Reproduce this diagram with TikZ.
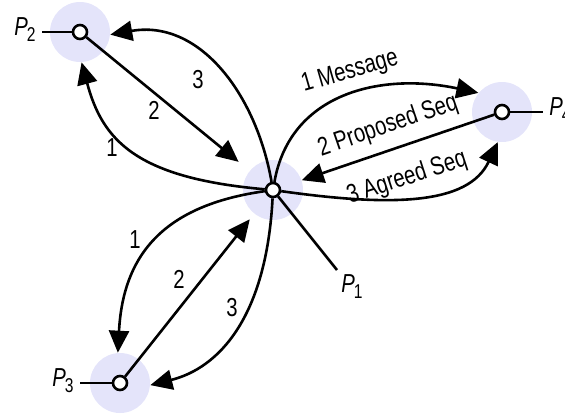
\documentclass[tikz,border=0pt]{standalone}
\usepackage{fontspec}
\setmainfont[FakeStretch=0.78]{Liberation Sans}
\usetikzlibrary{arrows.meta}
\definecolor{halo}{RGB}{228,228,250}
\newcommand{\proc}[1]{\textit{P}\kern-0.5pt\raisebox{-3pt}{\fontsize{10}{10}\selectfont #1}}

\begin{document}
\begin{tikzpicture}[x=0.5pt,y=0.5pt,
  halonode/.style={circle,fill=halo,minimum size=30pt,inner sep=0pt},
  procnode/.style={circle,draw=black,fill=white,line width=1.3pt,minimum size=7pt,inner sep=0pt},
  msg/.style={-{Triangle[length=11pt,width=10pt]},line width=1.3pt},
  stub/.style={line width=1.3pt},
  lbl/.style={font=\fontsize{13}{15}\selectfont,inner sep=0pt}]
  \useasboundingbox (0,0) rectangle (565,-414);
  % halos
  \node[halonode] (h1) at (273,-190) {};
  \node[halonode] (h2) at (80,-32) {};
  \node[halonode] (h3) at (120,-383) {};
  \node[halonode] (h4) at (502,-112) {};
  % processes
  \node[procnode] (p1) at (273,-190) {};
  \node[procnode] (p2) at (80,-32) {};
  \node[procnode] (p3) at (120,-383) {};
  \node[procnode] (p4) at (502,-112) {};
  % stubs and names
  \coordinate (p1end) at (337,-270);
  \coordinate (p2end) at (42,-32);
  \coordinate (p3end) at (80,-383);
  \coordinate (p4end) at (543,-112);
  \draw[stub] (p1) -- (p1end);
  \draw[stub] (p2) -- (p2end);
  \draw[stub] (p3) -- (p3end);
  \draw[stub] (p4) -- (p4end);
  \node[lbl,anchor=north west] (n1) at (341,-274) {\proc{1}};
  \node[lbl,anchor=east] (n2) at (36,-30) {\proc{2}};
  \node[lbl,anchor=east] (n3) at (74,-381) {\proc{3}};
  \node[lbl,anchor=west] (n4) at (549,-110) {\proc{4}};
  % messages with P2
  \draw[msg] (p1) to[out=175,in=-75,out distance=65pt,in distance=40pt] (h2.-87);
  \draw[msg,shorten >=7pt] (p2) -- (h1);
  \draw[msg] (p1) to[out=100,in=10,distance=45pt] (h2.-5);
  \node[lbl] (l21) at (112,-148) {1};
  \node[lbl] (l22) at (154,-110) {2};
  \node[lbl] (l23) at (198,-80) {3};
  % messages with P4
  \draw[msg] (p1) to[out=80,in=168,out distance=45pt,in distance=50pt] (h4.141);
  \draw[msg] (p4) -- (h1);
  \draw[msg] (p1) to[out=-8,in=-115,out distance=55pt,in distance=35pt] (h4.-98);
  \node[lbl,rotate=16] (l41) at (350,-72) {1 Message};
  \node[lbl,rotate=19] (l42) at (388,-126) {2 Proposed Seq};
  \node[lbl,rotate=18] (l43) at (407,-178) {3 Agreed Seq};
  % messages with P3
  \draw[msg] (p1) to[out=188,in=87,distance=50pt] (h3.94);
  \draw[msg,shorten >=3.5pt] (p3) -- (h1);
  \draw[msg] (p1) to[out=-93,in=14,out distance=60pt,in distance=35pt] (h3.-4);
  \node[lbl] (l31) at (135,-240) {1};
  \node[lbl] (l32) at (179,-279) {2};
  \node[lbl] (l33) at (232,-308) {3};
\end{tikzpicture}
\end{document}
